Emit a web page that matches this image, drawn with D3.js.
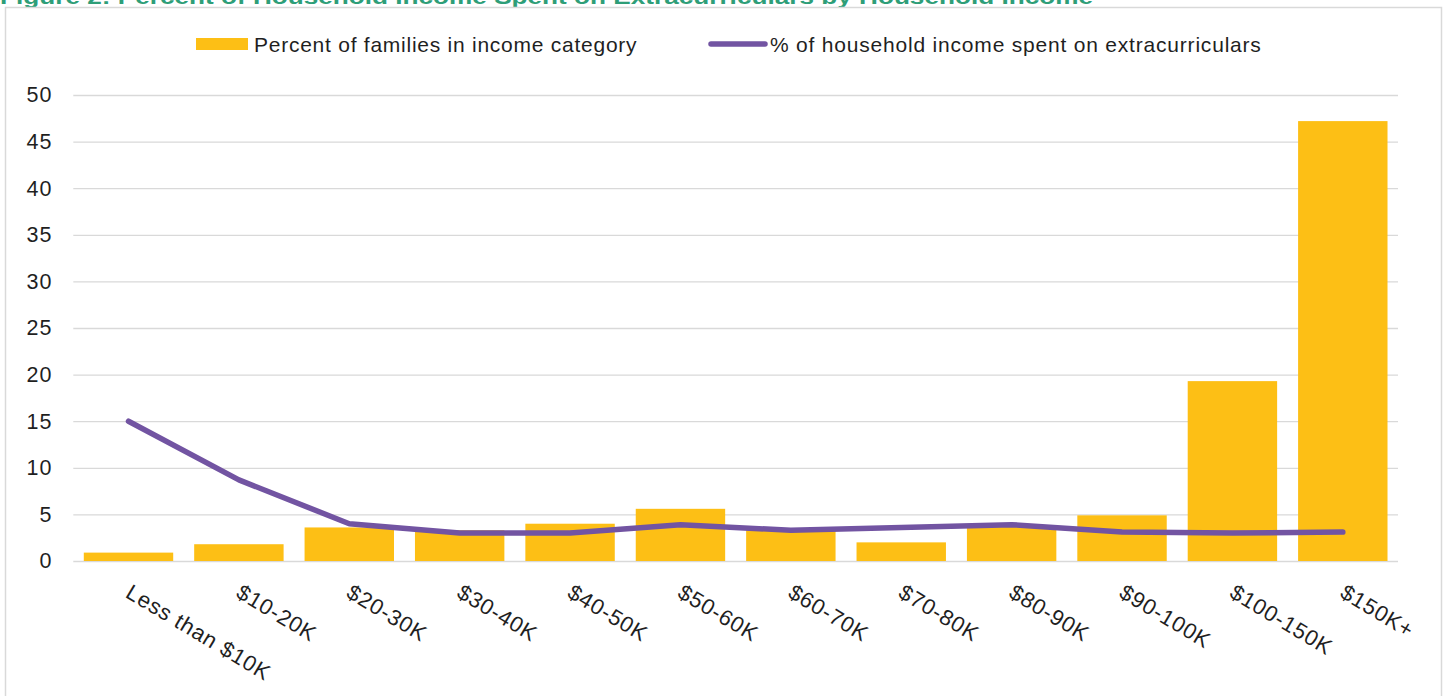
<!DOCTYPE html>
<html>
<head>
<meta charset="utf-8">
<script src="https://cdn.jsdelivr.net/npm/d3@7"></script>
<style>
  html, body { margin: 0; padding: 0; background: #ffffff; }
  svg { display: block; }
  text { font-family: "Liberation Sans", Arial, sans-serif; }
</style>
</head>
<body>
<svg id="chart" width="1447" height="696"></svg>
<script>
// Household income brackets
const categories = ["Less than $10K", "$10-20K", "$20-30K", "$30-40K", "$40-50K", "$50-60K",
                    "$60-70K", "$70-80K", "$80-90K", "$90-100K", "$100-150K", "$150K+"];
// Percent of families in each income category (bars)
const familyShare = [0.9, 1.8, 3.6, 3.3, 4.0, 5.6, 3.3, 2.0, 3.7, 4.9, 19.3, 47.2];
// Percent of household income spent on extracurriculars (line)
const incomeSpent = [15.0, 8.7, 4.0, 3.0, 3.0, 3.9, 3.3, 3.6, 3.9, 3.1, 3.0, 3.1];
// Value axis ticks
const yTicks = [0, 5, 10, 15, 20, 25, 30, 35, 40, 45, 50];

const titleText = "Figure 2: Percent of Household Income Spent on Extracurriculars by Household Income";
const barLabel = "Percent of families in income category";
const lineLabel = "% of household income spent on extracurriculars";

const barColor = "#FDBF15";
const lineColor = "#7254A2";
const gridColor = "#D9D9D9";
const textColor = "#1F1F1F";

const svg = d3.select("#chart");

// Figure title (sits above the chart frame, clipped by the page top)
svg.append("text")
  .attr("x", 0)
  .attr("y", 3.5)
  .attr("textLength", 1093)
  .attr("lengthAdjust", "spacingAndGlyphs")
  .attr("font-size", 20)
  .attr("font-weight", "bold")
  .attr("fill", "#2E9E78")
  .text(titleText);

// Chart frame
svg.append("rect")
  .attr("x", 5.5).attr("y", 7.5)
  .attr("width", 1436).attr("height", 720)
  .attr("fill", "none")
  .attr("stroke", gridColor)
  .attr("stroke-width", 1.5);

const x = d3.scaleBand()
  .domain(categories)
  .range([73.3, 1398])
  .paddingInner(0.19)
  .paddingOuter(0.095);

const y = d3.scaleLinear()
  .domain([0, 50])
  .range([561, 95]);

// Horizontal gridlines + value labels
const yAxis = d3.axisLeft(y)
  .tickValues(yTicks)
  .tickSize(-(1398 - 73.3))
  .tickPadding(21)
  .tickFormat(d3.format("d"));

const gy = svg.append("g")
  .attr("transform", "translate(73.3,0)")
  .call(yAxis);
gy.select(".domain").remove();
gy.selectAll(".tick line")
  .attr("stroke", gridColor)
  .attr("stroke-width", 1.3);
gy.selectAll(".tick text")
  .attr("fill", textColor)
  .attr("font-size", 21.5)
  .attr("letter-spacing", "0.9px")
  .attr("font-family", "\"Liberation Sans\", Arial, sans-serif");

// Bars
svg.append("g")
  .selectAll("rect")
  .data(categories)
  .join("rect")
  .attr("x", d => x(d))
  .attr("width", x.bandwidth())
  .attr("y", (d, i) => y(familyShare[i]))
  .attr("height", (d, i) => y(0) - y(familyShare[i]))
  .attr("fill", barColor);

// Line
const line = d3.line()
  .x((d, i) => x(categories[i]) + x.bandwidth() / 2)
  .y(d => y(d));

svg.append("path")
  .datum(incomeSpent)
  .attr("d", line)
  .attr("fill", "none")
  .attr("stroke", lineColor)
  .attr("stroke-width", 5.5)
  .attr("stroke-linecap", "round")
  .attr("stroke-linejoin", "round");

// Category labels, rotated, starting at each category centre
const xAxis = d3.axisBottom(x).tickSize(0).tickPadding(0);
const gx = svg.append("g")
  .attr("transform", "translate(4,583)")
  .call(xAxis);
gx.select(".domain").remove();
gx.selectAll(".tick text")
  .attr("fill", textColor)
  .attr("font-size", 22)
  .attr("letter-spacing", "0.8px")
  .attr("font-family", "\"Liberation Sans\", Arial, sans-serif")
  .attr("text-anchor", "start")
  .attr("x", 0)
  .attr("y", 0)
  .attr("dy", "0.72em")
  .attr("transform", "rotate(31)");

// Legend
const legend = svg.append("g");
legend.append("rect")
  .attr("x", 196).attr("y", 38)
  .attr("width", 52).attr("height", 12)
  .attr("fill", barColor);
legend.append("text")
  .attr("x", 254).attr("y", 51.5)
  .attr("font-size", 21)
  .attr("letter-spacing", "0.75px")
  .attr("fill", textColor)
  .text(barLabel);
legend.append("line")
  .attr("x1", 711).attr("x2", 765)
  .attr("y1", 44).attr("y2", 44)
  .attr("stroke", lineColor)
  .attr("stroke-width", 5.5)
  .attr("stroke-linecap", "round");
legend.append("text")
  .attr("x", 770).attr("y", 51.5)
  .attr("font-size", 21)
  .attr("letter-spacing", "0.8px")
  .attr("fill", textColor)
  .text(lineLabel);
</script>
</body>
</html>
